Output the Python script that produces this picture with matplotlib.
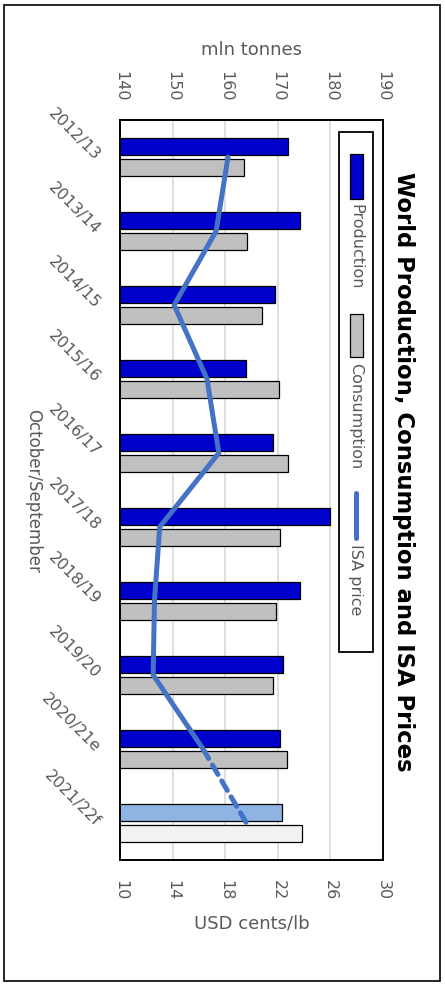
import numpy as np
import matplotlib
matplotlib.use("Agg")
import matplotlib.pyplot as plt
from matplotlib.patches import Rectangle
from matplotlib.lines import Line2D

seasons = ["2012/13", "2013/14", "2014/15", "2015/16", "2016/17",
           "2017/18", "2018/19", "2019/20", "2020/21e", "2021/22f"]
production = [171.9, 174.2, 169.4, 163.9, 169.1, 179.9, 174.2, 170.9, 170.4, 170.7]
consumption = [163.6, 164.2, 167.0, 170.3, 172.0, 170.4, 169.6, 169.1, 171.8, 174.5]
isa_price = [18.2, 17.3, 14.1, 16.6, 17.5, 13.0, 12.6, 12.5, 16.3, 19.6]

tonne_ticks = [140, 150, 160, 170, 180, 190]
price_ticks = [10, 14, 18, 22, 26, 30]

prod_colors = ["#0000CC"] * 9 + ["#8DB4E2"]
cons_colors = ["#C0C0C0"] * 9 + ["#F2F2F2"]
line_color = "#4472C4"
txt_color = "#595959"

W, H = 445, 987
plt.rcParams["font.family"] = ["DejaVu Sans"]

fig = plt.figure(figsize=(W / 100, H / 100), dpi=100)


def px(x, y):
    # pixel (from top-left) -> figure fraction
    return x / W, 1 - y / H


ax = fig.add_axes([120.3 / W, 1 - 861 / H, (383 - 120.3) / W, (861 - 121) / H])
ax2 = ax.twiny()

y = np.arange(len(seasons))
bh = 0.222
ax.barh(y - 0.142, production, height=bh, color=prod_colors, edgecolor="black", linewidth=0.9, zorder=2)
ax.barh(y + 0.142, consumption, height=bh, color=cons_colors, edgecolor="black", linewidth=0.9, zorder=2)
ax.set_xlim(140, 190)
ax.set_ylim(len(seasons) - 0.5, -0.5)
ax.set_axisbelow(True)
ax.grid(axis="x", color="#D9D9D9", linewidth=1.2)
ax.xaxis.tick_top()
ax.set_xticks(tonne_ticks)
ax.set_xticklabels([str(t) for t in tonne_ticks], rotation=-90, color=txt_color, fontsize=11.5)
ax.tick_params(axis="x", length=0, pad=14)
ax.set_yticks(y)
ax.set_yticklabels(seasons, rotation=-45, rotation_mode="anchor", ha="right", va="center",
                   color=txt_color, fontsize=11.5)
ax.tick_params(axis="y", length=0, pad=16)
for s in ax.spines.values():
    s.set_linewidth(1.4)
    s.set_color("black")

ax.set_ylabel("October/September", rotation=-90, color=txt_color, fontsize=12, va="center")
ax.yaxis.set_label_coords(-0.332, 0.5)
ax.text(0.5, 1.096, "mln tonnes", transform=ax.transAxes, ha="center", va="center",
        color=txt_color, fontsize=13)

ax2.set_xlim(10, 30)
ax2.xaxis.tick_bottom()
ax2.set_xticks(price_ticks)
ax2.set_xticklabels([str(t) for t in price_ticks], rotation=-90, color=txt_color, fontsize=11.5)
ax2.tick_params(axis="x", length=0, pad=14)
ax2.plot(isa_price[:9], y[:9], color=line_color, lw=3.6, solid_capstyle="round", solid_joinstyle="round", zorder=3)
ax2.plot(isa_price[8:], y[8:], color=line_color, lw=3.6, dashes=(2.2, 1.5),
         dash_capstyle="round", zorder=3)
ax2.text(0.5, -0.084, "USD cents/lb", transform=ax.transAxes, ha="center", va="center",
         color=txt_color, fontsize=13)
for s in ax2.spines.values():
    s.set_visible(False)

# title (rotated with the chart)
fig.text(*px(403, 472), "World Production, Consumption and ISA Prices", rotation=-90,
         ha="center", va="center", fontsize=16.4, fontweight="bold", color="black")

# legend, drawn by hand because it is rotated
fig.add_artist(Rectangle(px(339.3, 653), 34 / W, (653 - 133) / H, transform=fig.transFigure,
                         fill=False, edgecolor="black", linewidth=1.3))
fig.add_artist(Rectangle(px(350, 200), 12.5 / W, 45 / H, transform=fig.transFigure,
                         facecolor="#0000CC", edgecolor="black", linewidth=0.9))
fig.add_artist(Rectangle(px(350, 358), 12.5 / W, 43 / H, transform=fig.transFigure,
                         facecolor="#C0C0C0", edgecolor="black", linewidth=0.9))
lx, ly0 = px(356.2, 494)
_, ly1 = px(356.2, 539)
fig.add_artist(Line2D([lx, lx], [ly0, ly1], transform=fig.transFigure, color=line_color,
                      lw=3.6, solid_capstyle="round"))
for label, top in [("Production", 204), ("Consumption", 363), ("ISA price", 544)]:
    fig.text(*px(356, top), label, rotation=-90, ha="center", va="top",
             fontsize=11.5, color=txt_color)

# outer frame
fig.add_artist(Rectangle(px(4, 982), 436 / W, 976 / H, transform=fig.transFigure,
                         fill=False, edgecolor="black", linewidth=1.2))

fig.savefig("out.png", dpi=100)
